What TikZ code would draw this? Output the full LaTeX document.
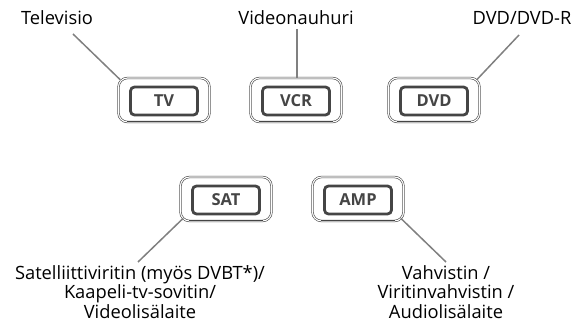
\documentclass[tikz,border=0pt]{standalone}
\usepackage{fontspec}
\setmainfont{Open Sans}
\definecolor{btn}{HTML}{454545}
\definecolor{conn}{HTML}{808080}
\newcommand{\labfont}{\fontsize{18.3}{19.5}\selectfont\lineskiplimit=-20pt\relax}
\begin{document}
\begin{tikzpicture}[x=1pt,y=-1pt,
  outerbtn/.style={draw=btn, double=white, double distance=1.1pt, line width=0.6pt,
    rounded corners=9pt, minimum width=91pt, minimum height=44pt, inner sep=0pt},
  innerbtn/.style={draw=btn, line width=2.8pt, rounded corners=4pt,
    minimum width=67pt, minimum height=28pt, inner sep=0pt,
    font=\fontsize{16.5}{16.5}\selectfont\bfseries, text=btn},
  lab/.style={font=\labfont, align=center, inner sep=0pt},
  connector/.style={draw=conn, line width=1.5pt}]
\useasboundingbox (0,0) rectangle (581,323);
% buttons
\node[outerbtn] (tv)  at (164,100) {};
\node[innerbtn] (tvi) at (164,101) {TV};
\node[outerbtn] (vcr) at (296,100) {};
\node[innerbtn] (vcri) at (296,101) {VCR};
\node[outerbtn] (dvd) at (434,100) {};
\node[innerbtn] (dvdi) at (434,101) {DVD};
\node[outerbtn] (sat) at (226,199) {};
\node[innerbtn] (sati) at (226,200) {SAT};
\node[outerbtn] (amp) at (358,199) {};
\node[innerbtn] (ampi) at (358,200) {AMP};
% shadow at bottom of outer buttons
\foreach \b in {tv,vcr,dvd,sat,amp}{
  \draw[btn, line width=1.4pt] ([xshift=9pt,yshift=0.6pt]\b.south west) -- ([xshift=-9pt,yshift=0.6pt]\b.south east);
}
% labels
\node[lab, anchor=base] (tvlab)  at (57,25) {Televisio};
\node[lab, anchor=base] (vcrlab) at (296,25) {Videonauhuri};
\node[lab, anchor=base] (dvdlab) at (522,25) {DVD/DVD-R};
\node[lab, anchor=north] (satlab) at (140,265) {Satelliittiviritin (myös DVBT*)/\\Kaapeli-tv-sovitin/\\Videolisälaite};
\node[lab, anchor=north] (amplab) at (446,265) {Vahvistin /\\Viritinvahvistin /\\Audiolisälaite};
% connector free ends
\coordinate (tvc)  at (73,34);
\coordinate (vcrc) at (297,29);
\coordinate (dvdc) at (519,35);
\coordinate (satc) at (138,262);
\coordinate (ampc) at (446,262);
\draw[connector] (tvc) -- ([shift={(2,2)}]tv.north west);
\draw[connector] (vcrc) -- (vcr.north -| vcrc);
\draw[connector] (dvdc) -- ([shift={(-3,2)}]dvd.north east);
\draw[connector] (satc) -- ([shift={(3,-3)}]sat.south west);
\draw[connector] (ampc) -- ([shift={(-3,-3)}]amp.south east);
\end{tikzpicture}
\end{document}
